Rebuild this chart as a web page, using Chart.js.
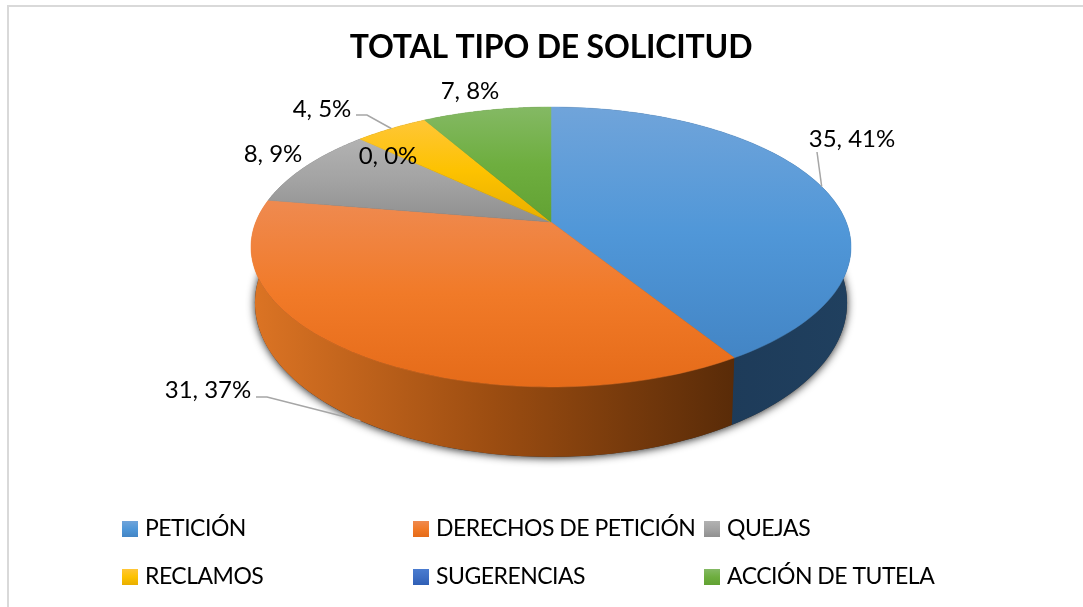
<!DOCTYPE html>
<html>
<head>
<meta charset="utf-8">
<script src="https://cdn.jsdelivr.net/npm/chart.js@4/dist/chart.umd.min.js"></script>
<style>
  html, body { margin: 0; background: #fff; }
  canvas { display: block; }
</style>
</head>
<body>
<canvas id="chart" width="1083" height="607"></canvas>
<script>
const categories = ['PETICIÓN', 'DERECHOS DE PETICIÓN', 'QUEJAS', 'RECLAMOS', 'SUGERENCIAS', 'ACCIÓN DE TUTELA'];
const counts = [35, 31, 8, 4, 0, 7];
const percents = [41, 37, 9, 5, 0, 8];

// top face gradients, light to dark
const faceColors = [
  ['#70a4da', '#5097d8', '#4385c5'],
  ['#ef8a50', '#f17a28', '#e56b19'],
  ['#b2b2b2', '#a3a3a3', '#8f8f8f'],
  ['#ffc637', '#fdc200', '#e8ae00'],
  ['#4a7cd0', '#3f6fc4', '#2f5fb5'],
  ['#84b964', '#6eae3f', '#62a233']
];
// side wall gradients, left to right
const wallColors = [
  ['#1b3753', '#1d3a58', '#20405f'],
  ['#dc7424', '#9c4d11', '#592b08'],
  ['#6a6a6a', '#5a5a5a', '#4c4c4c'],
  ['#a07a00', '#8f6c00', '#7f6000'],
  ['#2a4a85', '#26437a', '#203864'],
  ['#4c7a2a', '#436d25', '#385d1f']
];

// pie is seen tilted: rim points are projected, near edge bigger than far edge
const perspective = -0.1786;
const topFace = { rx: 295.2, ry: 135.5, dy: 0 };
const bottomFace = { rx: 291.3, ry: 149, dy: 53.5 };

// label text centres; anchorFace says where the leader line ends on the pie
const labelSpots = [
  { x: 852, y: 139, leader: [[817, 152]], anchorFace: topFace },
  { x: 208, y: 390, leader: [[256, 397], [267, 397]], anchorFace: bottomFace },
  { x: 273, y: 154 },
  { x: 322, y: 109, leader: [[356, 115], [367, 115]], anchorFace: topFace },
  { x: 388, y: 156 },
  { x: 470, y: 91 }
];

const legendSpots = [[122, 529], [413, 529], [704, 529], [122, 577], [413, 577], [704, 577]];

const textFont = '24px Lato';
const legendFont = '23px Lato';

function rimPoint(el, face, angle) {
  const u = Math.cos(angle), v = Math.sin(angle);
  const w = 1 + perspective * v;
  return [el.x + face.rx * u / w, el.y + face.dy + face.ry * v / w];
}

function rimPoints(el, face, steps = 90) {
  const pts = [];
  for (let i = 0; i <= steps; i++) {
    pts.push(rimPoint(el, face, el.startAngle + (el.endAngle - el.startAngle) * i / steps));
  }
  return pts;
}

function tracePath(ctx, pts) {
  ctx.beginPath();
  pts.forEach((p, i) => (i ? ctx.lineTo(p[0], p[1]) : ctx.moveTo(p[0], p[1])));
  ctx.closePath();
}

function gradientOver(ctx, pts, stops, vertical) {
  const vals = pts.map(p => p[vertical ? 1 : 0]);
  const lo = Math.min(...vals), hi = Math.max(...vals);
  const g = vertical ? ctx.createLinearGradient(0, lo, 0, hi) : ctx.createLinearGradient(lo, 0, hi, 0);
  stops.forEach((c, i) => g.addColorStop(i / (stops.length - 1), c));
  return g;
}

const solidPie = {
  id: 'solidPie',
  beforeDraw(chart) {
    const { ctx } = chart;
    ctx.save();
    ctx.fillStyle = '#fff';
    ctx.fillRect(0, 0, chart.width, chart.height);
    ctx.fillStyle = '#d9d9d9';
    ctx.fillRect(7, 5, chart.width - 7, 2);
    ctx.fillRect(7, 5, 2, chart.height - 5);
    ctx.restore();
    // title is drawn right after this hook
    ctx.letterSpacing = '-0.2px';
  },
  beforeDatasetsDraw(chart) {
    const { ctx } = chart;
    ctx.letterSpacing = '0px';
    const arcs = chart.getDatasetMeta(0).data;
    const first = arcs[0];

    // soft shadow under the base
    ctx.save();
    const base = [];
    for (let i = 0; i < 180; i++) base.push(rimPoint(first, bottomFace, i * Math.PI / 90));
    ctx.shadowColor = 'rgba(0,0,0,0.85)';
    ctx.shadowBlur = 9;
    ctx.shadowOffsetY = 1;
    tracePath(ctx, base);
    ctx.fillStyle = '#333';
    ctx.fill();
    ctx.restore();

    // walls
    arcs.forEach((el, i) => {
      if (el.endAngle - el.startAngle <= 0) return;
      const pts = rimPoints(el, topFace).concat(rimPoints(el, bottomFace).reverse());
      tracePath(ctx, pts);
      ctx.fillStyle = gradientOver(ctx, pts, wallColors[i], false);
      ctx.fill();
    });

    // top face
    arcs.forEach((el, i) => {
      if (el.endAngle - el.startAngle <= 0) return;
      const pts = [[el.x, el.y]].concat(rimPoints(el, topFace));
      tracePath(ctx, pts);
      const g = gradientOver(ctx, pts, faceColors[i], true);
      ctx.fillStyle = g;
      ctx.strokeStyle = g;
      ctx.lineWidth = 0.5;
      ctx.fill();
      ctx.stroke();
    });

    // leader lines
    ctx.save();
    ctx.strokeStyle = '#a6a6a6';
    ctx.lineWidth = 1.5;
    labelSpots.forEach((s, i) => {
      if (!s.leader) return;
      const el = arcs[i];
      const end = rimPoint(el, s.anchorFace, (el.startAngle + el.endAngle) / 2);
      ctx.beginPath();
      s.leader.concat([end]).forEach((p, k) => (k ? ctx.lineTo(p[0], p[1]) : ctx.moveTo(p[0], p[1])));
      ctx.stroke();
    });
    ctx.restore();

    // data labels
    ctx.save();
    ctx.font = textFont;
    ctx.fillStyle = '#000';
    ctx.textAlign = 'center';
    ctx.textBaseline = 'middle';
    labelSpots.forEach((s, i) => {
      ctx.fillText(counts[i] + ', ' + percents[i] + '%', s.x, s.y);
    });
    ctx.restore();

    // legend
    ctx.save();
    ctx.font = legendFont;
    ctx.letterSpacing = '-0.5px';
    ctx.textBaseline = 'middle';
    categories.forEach((name, i) => {
      const [x, y] = legendSpots[i];
      const sw = [[x, y - 8], [x + 16, y + 8]];
      ctx.fillStyle = gradientOver(ctx, sw, faceColors[i], true);
      ctx.fillRect(x, y - 8, 16, 16);
      ctx.fillStyle = '#000';
      ctx.fillText(name, x + 23, y);
    });
    ctx.restore();

    return false;
  }
};

new Chart(document.getElementById('chart'), {
  type: 'pie',
  data: {
    labels: categories,
    datasets: [{ data: counts, backgroundColor: faceColors.map(c => c[1]) }]
  },
  options: {
    responsive: false,
    animation: false,
    layout: { padding: { left: 19, right: 0, top: 0, bottom: 229.4 } },
    plugins: {
      legend: { display: false },
      tooltip: { enabled: false },
      title: {
        display: true,
        text: 'TOTAL TIPO DE SOLICITUD',
        color: '#000',
        font: { family: 'Lato', size: 32, weight: 'bold' },
        padding: { top: 28, bottom: 0 }
      }
    }
  },
  plugins: [solidPie]
});
</script>
</body>
</html>
